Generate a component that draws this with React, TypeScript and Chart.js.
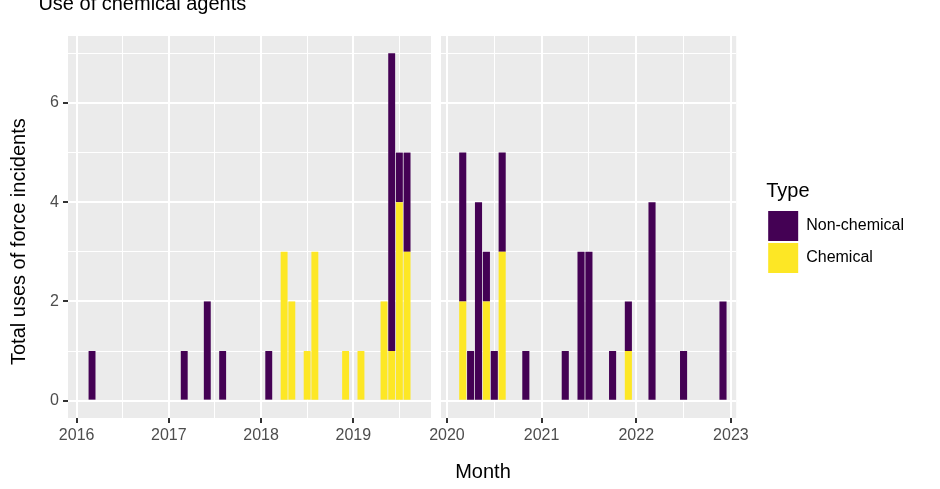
import React, { useEffect, useRef } from "react";
import { Chart, registerables } from "chart.js";

Chart.register(...registerables);

// 2016-2019 panel, counts per month
const monthsBefore = [
  "2016-03", "2017-03", "2017-06", "2017-08", "2018-02", "2018-04", "2018-05", "2018-07",
  "2018-08", "2018-12", "2019-02", "2019-05", "2019-06", "2019-07", "2019-08",
];
const chemicalBefore = [0, 0, 0, 0, 0, 3, 2, 1, 3, 1, 1, 2, 1, 4, 3];
const nonChemicalBefore = [1, 1, 2, 1, 1, 0, 0, 0, 0, 0, 0, 0, 6, 1, 2];

// 2020-2022 panel
const monthsAfter = [
  "2020-03", "2020-04", "2020-05", "2020-06", "2020-07", "2020-08", "2020-11", "2021-04",
  "2021-06", "2021-07", "2021-10", "2021-12", "2022-03", "2022-07", "2022-12",
];
const chemicalAfter = [2, 0, 0, 2, 0, 3, 0, 0, 0, 0, 0, 1, 0, 0, 0];
const nonChemicalAfter = [3, 1, 4, 1, 1, 2, 1, 1, 3, 3, 1, 1, 4, 1, 2];

const yMajor = [0, 2, 4, 6];
const yMinor = [1, 3, 5, 7];
const xMajorBefore = [2016, 2017, 2018, 2019];
const xMinorBefore = [2016.5, 2017.5, 2018.5, 2019.5];
const xMajorAfter = [2020, 2021, 2022, 2023];
const xMinorAfter = [2020.5, 2021.5, 2022.5];

const FONT = "'Liberation Sans', Arial, Helvetica, sans-serif";
const PURPLE = "#440154";
const YELLOW = "#FDE725";

const toYear = (m: string) => {
  const [y, mo] = m.split("-").map(Number);
  return y + (mo - 1) / 12;
};

// grey panel behind the grid, like theme_gray
const panelBackground = {
  id: "panelBackground",
  beforeDraw(chart: any) {
    const { ctx, chartArea } = chart;
    ctx.save();
    ctx.fillStyle = "#EBEBEB";
    ctx.fillRect(chartArea.left, chartArea.top, chartArea.width, chartArea.height);
    ctx.restore();
  },
};

const isIn = (list: number[], v: any) => list.some((t) => Math.abs(t - v) < 1e-6);

const xScale = (min: number, max: number, major: number[], minor: number[]) => ({
  type: "linear",
  min,
  max,
  bounds: "data",
  offset: false,
  stacked: true,
  border: { display: false },
  afterBuildTicks: (s: any) => {
    s.ticks = [...major, ...minor].sort((a, b) => a - b).map((value) => ({ value }));
  },
  afterFit: (s: any) => {
    s.height = 71;
  },
  grid: {
    offset: false,
    color: "#FFFFFF",
    lineWidth: (c: any) => (c.tick && isIn(major, c.tick.value) ? 2 : 1),
    tickLength: 5,
    tickWidth: 2,
    tickColor: (c: any) => (c.tick && isIn(major, c.tick.value) ? "#333333" : "rgba(0,0,0,0)"),
  },
  ticks: {
    autoSkip: false,
    maxRotation: 0,
    padding: 3,
    color: "#4D4D4D",
    font: { family: FONT, size: 16 },
    callback: (v: any) => (isIn(major, v) ? String(v) : ""),
  },
});

const yScale = (labels: boolean) => ({
  min: -0.35,
  max: 7.35,
  bounds: "data",
  stacked: true,
  border: { display: false },
  afterBuildTicks: (s: any) => {
    s.ticks = [...yMajor, ...yMinor].sort((a, b) => a - b).map((value) => ({ value }));
  },
  afterFit: (s: any) => {
    s.width = labels ? 68 : 0;
  },
  grid: {
    color: "#FFFFFF",
    lineWidth: (c: any) => (c.tick && isIn(yMajor, c.tick.value) ? 2 : 1),
    drawTicks: labels,
    tickLength: 5,
    tickWidth: 2,
    tickColor: (c: any) => (c.tick && isIn(yMajor, c.tick.value) ? "#333333" : "rgba(0,0,0,0)"),
  },
  ticks: {
    display: labels,
    padding: 4,
    color: "#4D4D4D",
    font: { family: FONT, size: 16 },
    callback: (v: any) => (isIn(yMajor, v) ? String(v) : ""),
  },
});

const datasets = (months: string[], chem: number[], nonChem: number[]) => [
  {
    label: "Chemical",
    data: months.map((m, i) => ({ x: toYear(m), y: chem[i] })),
    backgroundColor: YELLOW,
    borderWidth: 0,
    barPercentage: 0.9,
    categoryPercentage: 1,
  },
  {
    label: "Non-chemical",
    data: months.map((m, i) => ({ x: toYear(m), y: nonChem[i] })),
    backgroundColor: PURPLE,
    borderWidth: 0,
    barPercentage: 0.9,
    categoryPercentage: 1,
  },
];

const App = () => {
  const leftRef = useRef<HTMLCanvasElement>(null);
  const rightRef = useRef<HTMLCanvasElement>(null);

  useEffect(() => {
    document.body.style.margin = "0";
    if (!leftRef.current || !rightRef.current) return;

    const left = new Chart(leftRef.current, {
      type: "bar",
      data: { datasets: datasets(monthsBefore, chemicalBefore, nonChemicalBefore) },
      options: {
        responsive: false,
        animation: false,
        layout: { padding: { top: 36, right: 5, left: 0, bottom: 0 } },
        scales: {
          x: xScale(2015.906, 2019.843, xMajorBefore, xMinorBefore),
          y: yScale(true),
        },
        plugins: { legend: { display: false }, tooltip: { enabled: false } },
      } as any,
      plugins: [panelBackground],
    });

    const right = new Chart(rightRef.current, {
      type: "bar",
      data: { datasets: datasets(monthsAfter, chemicalAfter, nonChemicalAfter) },
      options: {
        responsive: false,
        animation: false,
        layout: { padding: { top: 36, right: 26, left: 61, bottom: 0 } },
        scales: {
          x: xScale(2019.937, 2023.056, xMajorAfter, xMinorAfter),
          y: yScale(false),
          // empty axis, only keeps the legend away from the panel
          gap: {
            position: "right",
            display: true,
            grid: { display: false },
            ticks: { display: false },
            border: { display: false },
            afterFit: (s: any) => {
              s.width = 30;
            },
          },
        },
        plugins: {
          tooltip: { enabled: false },
          legend: {
            display: true,
            position: "right",
            align: "start",
            reverse: true,
            maxWidth: 300,
            title: {
              display: true,
              text: "Type",
              position: "start",
              color: "#000000",
              font: { family: FONT, size: 20 },
              padding: { top: 145, bottom: 4 },
            },
            labels: {
              boxWidth: 30,
              boxHeight: 30,
              padding: 2,
              color: "#000000",
              font: { family: FONT, size: 16 },
            },
          },
        },
      } as any,
      plugins: [panelBackground],
    });

    return () => {
      left.destroy();
      right.destroy();
    };
  }, []);

  const text = { position: "absolute" as const, fontFamily: FONT, fontSize: 20, lineHeight: "20px", color: "#000", whiteSpace: "nowrap" as const };

  return (
    <div style={{ position: "relative", width: 940, height: 489, overflow: "hidden", background: "#fff" }}>
      <canvas ref={leftRef} width={436} height={489} style={{ position: "absolute", left: 0, top: 0, display: "block" }} />
      <canvas ref={rightRef} width={560} height={489} style={{ position: "absolute", left: 380, top: 0, display: "block" }} />
      <div style={{ ...text, left: 38.4, top: -7.4 }}>Use of chemical agents</div>
      <div style={{ ...text, left: 455.2, top: 461.4 }}>Month</div>
      <div style={{ ...text, left: 8, top: 364.5, transformOrigin: "0 0", transform: "rotate(-90deg)" }}>
        Total uses of force incidents
      </div>
    </div>
  );
};

export default App;
